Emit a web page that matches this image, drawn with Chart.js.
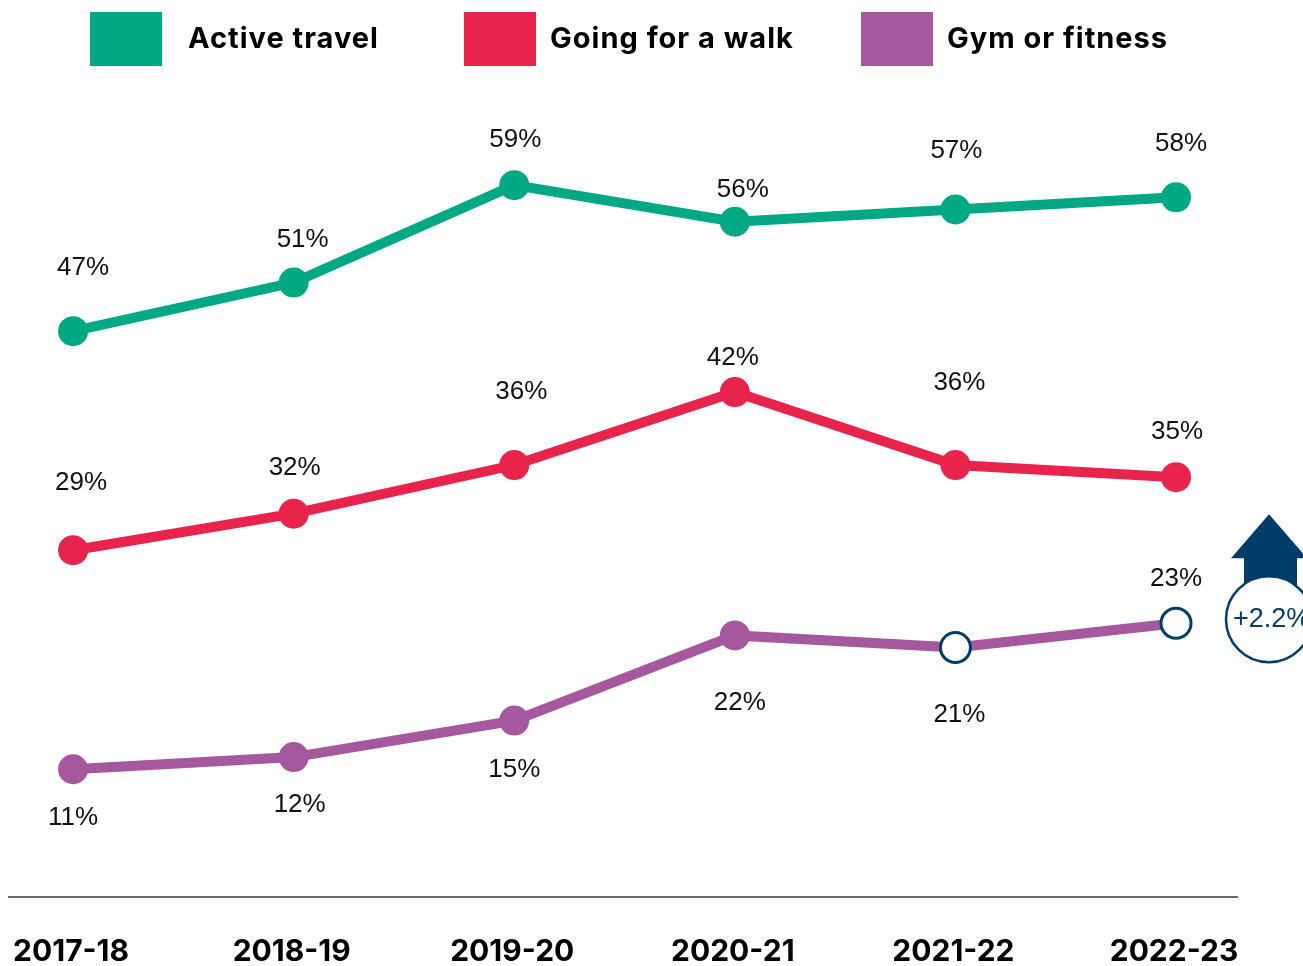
<!DOCTYPE html>
<html>
<head>
<meta charset="utf-8">
<style>
  html, body { margin: 0; padding: 0; background: #fff; }
  #wrap { width: 1303px; height: 966px; position: relative; }
</style>
<script src="https://cdn.jsdelivr.net/npm/chart.js@4.4.1/dist/chart.umd.min.js"></script>
</head>
<body>
<div id="wrap"><canvas id="myChart" width="1303" height="966"></canvas></div>
<script>
// survey years and participation (%) per activity
const years = ['2017-18', '2018-19', '2019-20', '2020-21', '2021-22', '2022-23'];
const activeTravel = [47, 51, 59, 56, 57, 58];
const goingForWalk = [29, 32, 36, 42, 36, 35];
const gymFitness = [11, 12, 15, 22, 21, 23];
const gymChange = '+2.2%';

const GREEN = '#00a884';
const RED = '#e8234c';
const PURPLE = '#a6589e';
const NAVY = '#003d6b';

// label offsets from each point (dx, dy)
const activeOffsets = [[10, -63], [9, -43], [1, -45], [8, -32], [1, -59], [5, -54]];
const walkOffsets = [[8, -67], [1, -46], [7, -73], [-2, -34], [4, -82], [1, -45]];
const gymOffsets = [[0, 49], [6, 48], [0, 49], [5, 67], [4, 67], [0, -44]];

// legend layout: box left edge and text left edge
const legendBoxX = [90, 464, 861];
const legendTextX = [188, 550, 947];

const toPoints = arr => arr.map((v, i) => ({ x: i, y: v }));

const valueLabels = {
    id: 'valueLabels',
    afterDatasetsDraw(chart) {
        const ctx = chart.ctx;
        ctx.save();
        ctx.font = '26px "Liberation Sans", Arial, sans-serif';
        ctx.fillStyle = '#111';
        ctx.textAlign = 'center';
        ctx.textBaseline = 'middle';
        chart.data.datasets.forEach((ds, di) => {
            const meta = chart.getDatasetMeta(di);
            meta.data.forEach((pt, i) => {
                const off = ds.labelOffsets[i];
                ctx.fillText(ds.data[i].y + '%', pt.x + off[0], pt.y + off[1]);
            });
        });
        ctx.restore();
    }
};

// baseline rule and year labels under the plot
const yearAxis = {
    id: 'yearAxis',
    afterDraw(chart) {
        const ctx = chart.ctx;
        const area = chart.chartArea;
        const x = chart.scales.x;
        ctx.save();
        ctx.strokeStyle = '#333';
        ctx.lineWidth = 1.5;
        ctx.beginPath();
        ctx.moveTo(area.left, area.bottom);
        ctx.lineTo(area.right, area.bottom);
        ctx.stroke();
        ctx.fillStyle = '#000';
        ctx.font = 'bold 30px Inter, "Noto Sans", sans-serif';
        ctx.textAlign = 'center';
        ctx.textBaseline = 'middle';
        years.forEach((y, i) => {
            ctx.fillText(y, x.getPixelForValue(i) - 2, area.bottom + 55);
        });
        ctx.restore();
    }
};

const topLegend = {
    id: 'topLegend',
    afterDraw(chart) {
        const ctx = chart.ctx;
        ctx.save();
        ctx.font = 'bold 29px Inter, "Noto Sans", sans-serif';
        ctx.letterSpacing = '1px';
        ctx.textBaseline = 'middle';
        ctx.textAlign = 'left';
        chart.data.datasets.forEach((ds, i) => {
            ctx.fillStyle = ds.borderColor;
            ctx.fillRect(legendBoxX[i], 12, 72, 54);
            ctx.fillStyle = '#000';
            ctx.fillText(ds.label, legendTextX[i], 39);
        });
        ctx.restore();
    }
};

// up arrow and change badge beside the last gym point
const changeBadge = {
    id: 'changeBadge',
    afterDraw(chart) {
        const ctx = chart.ctx;
        const meta = chart.getDatasetMeta(2);
        const last = meta.data[meta.data.length - 1];
        const cx = chart.chartArea.right + 31;
        const cy = last.y - 4;
        const r = 43;
        ctx.save();
        ctx.fillStyle = NAVY;
        ctx.beginPath();
        ctx.moveTo(cx, cy - 105);
        ctx.lineTo(cx + 38, cy - 61);
        ctx.lineTo(cx + 28, cy - 61);
        ctx.lineTo(cx + 28, cy - 30);
        ctx.lineTo(cx - 25, cy - 30);
        ctx.lineTo(cx - 25, cy - 61);
        ctx.lineTo(cx - 38, cy - 61);
        ctx.closePath();
        ctx.fill();
        ctx.beginPath();
        ctx.arc(cx, cy, r, 0, Math.PI * 2);
        ctx.fillStyle = '#fff';
        ctx.fill();
        ctx.lineWidth = 2.5;
        ctx.strokeStyle = NAVY;
        ctx.stroke();
        ctx.fillStyle = NAVY;
        ctx.font = '27px "Liberation Sans", Arial, sans-serif';
        ctx.textAlign = 'left';
        ctx.textBaseline = 'middle';
        ctx.fillText(gymChange, cx - 36, cy);
        ctx.restore();
    }
};

const ctx = document.getElementById('myChart').getContext('2d');
const myChart = new Chart(ctx, {
    type: 'line',
    data: {
        datasets: [
            {
                label: 'Active travel',
                data: toPoints(activeTravel),
                borderColor: GREEN,
                backgroundColor: GREEN,
                pointBackgroundColor: GREEN,
                labelOffsets: activeOffsets
            },
            {
                label: 'Going for a walk',
                data: toPoints(goingForWalk),
                borderColor: RED,
                backgroundColor: RED,
                pointBackgroundColor: RED,
                labelOffsets: walkOffsets
            },
            {
                label: 'Gym or fitness',
                data: toPoints(gymFitness),
                borderColor: PURPLE,
                backgroundColor: PURPLE,
                pointBackgroundColor: [PURPLE, PURPLE, PURPLE, PURPLE, '#fff', '#fff'],
                pointBorderColor: [PURPLE, PURPLE, PURPLE, PURPLE, NAVY, NAVY],
                pointBorderWidth: [0, 0, 0, 0, 3, 3],
                labelOffsets: gymOffsets
            }
        ]
    },
    options: {
        responsive: false,
        animation: false,
        layout: {
            autoPadding: false,
            padding: { left: 8, right: 65, top: 100, bottom: 69 }
        },
        elements: {
            line: { borderWidth: 10, tension: 0 },
            point: { radius: 15, hoverRadius: 15, borderWidth: 0 }
        },
        datasets: {
            line: { clip: false }
        },
        scales: {
            x: {
                type: 'linear',
                display: false,
                min: -0.295,
                max: 5.281
            },
            y: {
                display: false,
                min: 0.5,
                max: 66
            }
        },
        plugins: {
            legend: { display: false },
            tooltip: { enabled: false }
        }
    },
    plugins: [valueLabels, yearAxis, topLegend, changeBadge]
});
</script>
</body>
</html>
